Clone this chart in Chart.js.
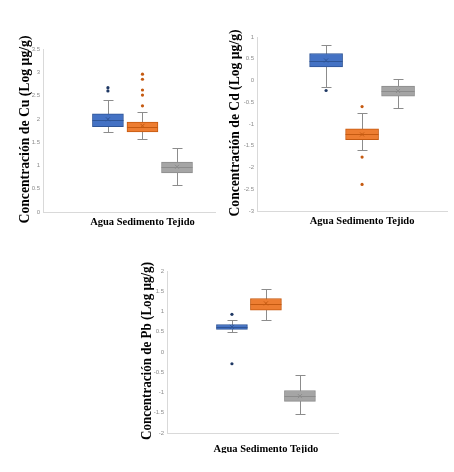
<!DOCTYPE html>
<html>
<head>
<meta charset="utf-8">
<script src="https://cdn.jsdelivr.net/npm/chart.js@4.4.1/dist/chart.umd.min.js"></script>
<style>
  body { margin: 0; background: #fff; }
  #wrap { position: relative; width: 454px; height: 472px; }
  canvas { position: absolute; left: 0; top: 0; }
</style>
</head>
<body>
<div id="wrap">
  <canvas id="cu" width="454" height="472"></canvas>
  <canvas id="cd" width="454" height="472"></canvas>
  <canvas id="pb" width="454" height="472"></canvas>
</div>
<script>
// categories shared by the three panels
const categories = ["Agua", "Sedimento", "Tejido"];

const boxColors = ["#4472C4", "#ED7D31", "#A5A5A5"];
const boxBorders = ["#2F5597", "#C55A11", "#8C8C8C"];
const outlierColors = ["#1F3864", "#C55A11", "#7F7F7F"];

// Cu (Log ug/g)
const cuMin = [1.72, 1.57, 0.58];
const cuQ1 = [1.83, 1.72, 0.84];
const cuMedian = [1.97, 1.83, 0.96];
const cuQ3 = [2.11, 1.93, 1.07];
const cuMax = [2.41, 2.15, 1.37];
const cuMean = [1.99, 1.85, 0.97];
const cuOutliers = [[2.6, 2.67], [2.28, 2.51, 2.62, 2.85, 2.96], []];
const cuTicks = [0, 0.5, 1, 1.5, 2, 2.5, 3, 3.5];

// Cd (Log ug/g)
const cdMin = [-0.15, -1.6, -0.63];
const cdQ1 = [0.31, -1.36, -0.36];
const cdMedian = [0.45, -1.24, -0.24];
const cdQ3 = [0.62, -1.11, -0.13];
const cdMax = [0.81, -0.75, 0.03];
const cdMean = [0.46, -1.24, -0.24];
const cdOutliers = [[-0.23], [-0.6, -1.76, -2.39], []];
const cdTicks = [-3, -2.5, -2, -1.5, -1, -0.5, 0, 0.5, 1];

// Pb (Log ug/g)
const pbMin = [0.49, 0.78, -1.52];
const pbQ1 = [0.56, 1.03, -1.22];
const pbMedian = [0.62, 1.18, -1.09];
const pbQ3 = [0.68, 1.32, -0.95];
const pbMax = [0.78, 1.55, -0.56];
const pbMean = [0.62, 1.2, -1.09];
const pbOutliers = [[0.93, -0.29], [], []];
const pbTicks = [-2, -1.5, -1, -0.5, 0, 0.5, 1, 1.5, 2];

// whiskers, medians, means and the vertical axis title
function boxPlugin(panel) {
  return {
    id: "boxExtras",
    beforeDatasetsDraw(chart) {
      const { ctx, scales: { x, y } } = chart;
      ctx.save();
      ctx.strokeStyle = "#8C8C8C";
      ctx.lineWidth = 1;
      categories.forEach((c, i) => {
        const px = Math.round(x.getPixelForValue(i + 1)) + 0.5;
        const yLow = Math.round(y.getPixelForValue(panel.min[i])) + 0.5;
        const yHigh = Math.round(y.getPixelForValue(panel.max[i])) + 0.5;
        ctx.beginPath();
        ctx.moveTo(px, yHigh);
        ctx.lineTo(px, yLow);
        ctx.moveTo(px - 5, yHigh);
        ctx.lineTo(px + 5, yHigh);
        ctx.moveTo(px - 5, yLow);
        ctx.lineTo(px + 5, yLow);
        ctx.stroke();
      });
      ctx.restore();
    },
    afterDatasetsDraw(chart) {
      const { ctx, scales: { x, y } } = chart;
      const half = panel.barWidth / 2;
      ctx.save();
      ctx.lineWidth = 1;
      categories.forEach((c, i) => {
        const px = x.getPixelForValue(i + 1);
        const ym = Math.round(y.getPixelForValue(panel.median[i])) + 0.5;
        ctx.strokeStyle = boxBorders[i];
        ctx.beginPath();
        ctx.moveTo(px - half, ym);
        ctx.lineTo(px + half, ym);
        ctx.stroke();
        // mean marker
        const yMean = y.getPixelForValue(panel.mean[i]);
        ctx.beginPath();
        ctx.moveTo(px - 2, yMean - 2);
        ctx.lineTo(px + 2, yMean + 2);
        ctx.moveTo(px - 2, yMean + 2);
        ctx.lineTo(px + 2, yMean - 2);
        ctx.stroke();
      });
      ctx.restore();
    },
    afterDraw(chart) {
      const { ctx, chartArea } = chart;
      ctx.save();
      ctx.font = "bold 14px 'Liberation Serif'";
      ctx.fillStyle = "#000";
      ctx.textAlign = "center";
      ctx.textBaseline = "middle";
      ctx.translate(panel.titleX, (chartArea.top + chartArea.bottom) / 2 - 1);
      ctx.rotate(-Math.PI / 2);
      ctx.fillText(panel.title, 0, 0, panel.titleLen);
      ctx.restore();
    },
  };
}

function makeChart(canvasId, panel) {
  const boxes = categories.map((c, i) => ({ x: i + 1, y: [panel.q1[i], panel.q3[i]] }));
  const points = [];
  const pointColors = [];
  panel.outliers.forEach((list, i) => {
    list.forEach((v) => {
      points.push({ x: i + 1, y: v });
      pointColors.push(outlierColors[i]);
    });
  });

  return new Chart(document.getElementById(canvasId), {
    type: "bar",
    data: {
      datasets: [
        {
          data: boxes,
          backgroundColor: boxColors,
          borderColor: boxBorders,
          borderWidth: 1,
          borderSkipped: false,
          barThickness: panel.barWidth,
          order: 2,
        },
        {
          type: "scatter",
          data: points,
          pointRadius: 1.6,
          pointBackgroundColor: pointColors,
          pointBorderColor: pointColors,
          pointBorderWidth: 0,
          order: 1,
        },
      ],
    },
    options: {
      responsive: false,
      animation: false,
      events: [],
      layout: { padding: panel.padding },
      plugins: { legend: { display: false }, tooltip: { enabled: false } },
      scales: {
        x: {
          type: "linear",
          offset: false,
          min: panel.xMin,
          max: panel.xMax,
          afterBuildTicks: (scale) => {
            scale.ticks = [{ value: 2 }];
          },
          afterFit: (scale) => {
            scale.height = 20;
          },
          grid: { display: false, drawTicks: false },
          border: { color: "#D9D9D9" },
          ticks: {
            autoSkip: false,
            maxRotation: 0,
            padding: panel.labelPad,
            color: "#000",
            font: { family: "'Liberation Serif'", size: 10.5, weight: "bold" },
            callback: () => categories.join(" "),
          },
        },
        y: {
          min: panel.ticks[0],
          max: panel.ticks[panel.ticks.length - 1],
          afterBuildTicks: (scale) => {
            scale.ticks = panel.ticks.map((v) => ({ value: v }));
          },
          afterFit: (scale) => {
            scale.width = 15;
          },
          grid: { display: false, drawTicks: false },
          border: { color: "#D9D9D9" },
          ticks: {
            padding: 3,
            color: "#8C8C8C",
            font: { family: "'Liberation Sans'", size: 6 },
            callback: (v) => String(v),
          },
        },
      },
    },
    plugins: [boxPlugin(panel)],
  });
}

makeChart("cu", {
  min: cuMin, q1: cuQ1, median: cuMedian, q3: cuQ3, max: cuMax, mean: cuMean,
  outliers: cuOutliers, ticks: cuTicks,
  title: "Concentración de Cu (Log µg/g)", titleX: 25.5, titleLen: 188,
  xMin: -0.88, xMax: 4.1, barWidth: 31, labelPad: 4,
  padding: { left: 28, right: 239, top: 49, bottom: 240 },
});

makeChart("cd", {
  min: cdMin, q1: cdQ1, median: cdMedian, q3: cdQ3, max: cdMax, mean: cdMean,
  outliers: cdOutliers, ticks: cdTicks,
  title: "Concentración de Cd (Log µg/g)", titleX: 235.5, titleLen: 187,
  xMin: -0.92, xMax: 4.36, barWidth: 33, labelPad: 4,
  padding: { left: 242, right: 7, top: 37, bottom: 241 },
});

makeChart("pb", {
  min: pbMin, q1: pbQ1, median: pbMedian, q3: pbQ3, max: pbMax, mean: pbMean,
  outliers: pbOutliers, ticks: pbTicks,
  title: "Concentración de Pb (Log µg/g)", titleX: 147.5, titleLen: 178,
  xMin: -0.91, xMax: 4.12, barWidth: 31, labelPad: 10,
  padding: { left: 152, right: 116, top: 271, bottom: 19 },
});
</script>
</body>
</html>
